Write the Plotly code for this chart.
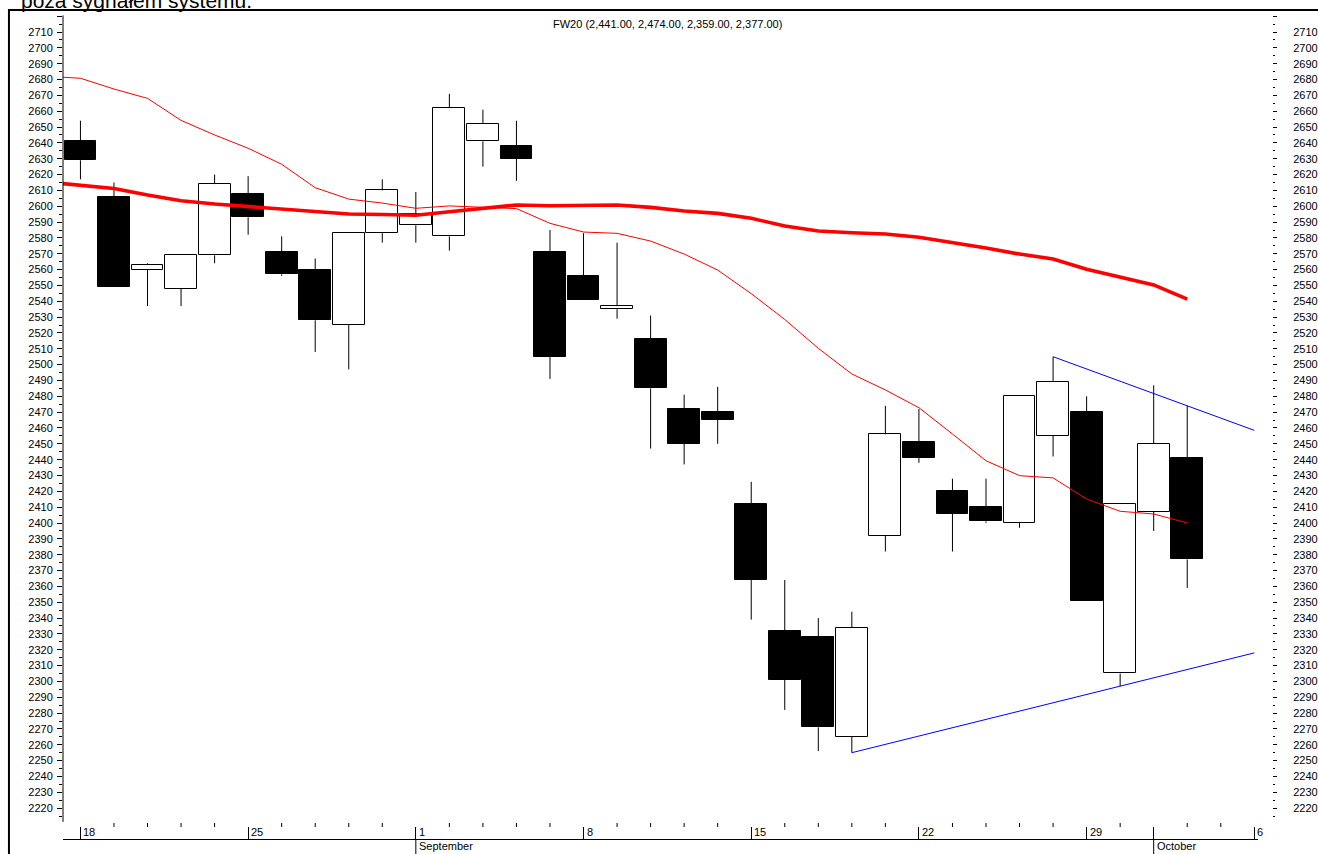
import plotly.graph_objects as go

# ---------------- data (FW20, 18 Aug - 2 Oct 2008) ----------------
day_idx = list(range(34))
opens  = [2641, 2606, 2560, 2548, 2569, 2608, 2571, 2560, 2525, 2583,
          2588, 2581, 2641, 2638, 2571, 2556, 2535, 2516, 2472, 2470,
          2412, 2332, 2328, 2265, 2392, 2451, 2420, 2410, 2400, 2455,
          2470, 2305, 2407, 2441]
highs  = [2654, 2615, 2564, 2569, 2620, 2619, 2581, 2567, 2583, 2617,
          2609, 2671, 2661, 2654, 2585, 2583, 2577, 2531, 2481, 2486,
          2426, 2364, 2340, 2344, 2474, 2472, 2428, 2428, 2480, 2505,
          2480, 2412, 2487, 2474]
lows   = [2617, 2549, 2537, 2537, 2564, 2582, 2556, 2508, 2497, 2577,
          2577, 2572, 2625, 2616, 2491, 2541, 2529, 2447, 2437, 2450,
          2339, 2282, 2256, 2255, 2382, 2438, 2382, 2400, 2397, 2442,
          2351, 2297, 2395, 2359]
closes = [2629, 2549, 2563, 2569, 2614, 2593, 2557, 2528, 2583, 2610,
          2595, 2662, 2652, 2630, 2505, 2541, 2537, 2485, 2450, 2465,
          2364, 2301, 2271, 2334, 2456, 2441, 2406, 2401, 2480, 2489,
          2351, 2412, 2450, 2377]

ma_idx = list(range(-1, 34))
ma_short = [2682, 2680.8, 2674, 2668.1, 2654.2, 2645, 2636.6, 2626.5, 2611.7, 2604.5,
            2602, 2598.7, 2600.2, 2599.2, 2598.5, 2589.2, 2583.7, 2582.9, 2578, 2569.8,
            2559.7, 2544.8, 2528.5, 2510.3, 2494.1, 2484, 2472.8, 2456.2, 2439.3, 2429.9,
            2428.5, 2415.1, 2407.4, 2405.7, 2400.0]
ma_long = [2615.3, 2613.2, 2611.2, 2607.1, 2603.5, 2601.4, 2599.7, 2598.2, 2596.6, 2595.1,
           2594.8, 2594.3, 2596.5, 2598.7, 2600.8, 2600.3, 2600.3, 2600.8, 2599.3, 2597.0,
           2595.5, 2592.4, 2587.5, 2584.4, 2583.3, 2582.5, 2580.4, 2577.2, 2573.6, 2569.8,
           2566.7, 2560.2, 2555.5, 2550.3, 2541.4]

upper_anchor = [29, 33]   # candles whose highs define the falling trend line
lower_anchor = [23, 31]   # candles whose lows define the rising trend line
trend_end = 35

week_idx = [0, 5, 10, 15, 20, 25, 30, 35]
week_labels = ["18", "25", "1", "8", "15", "22", "29", "6"]
month_idx = [10, 32]
month_labels = ["September", "October"]
n_days = 35

y_major = list(range(2220, 2721, 10))
y_labels = [str(v) if v <= 2710 else "" for v in y_major]
y_minor = [v for v in range(2215, 2721, 5) if v % 10 != 0]

title_text = "FW20 (2,441.00, 2,474.00, 2,359.00, 2,377.00)"
top_text = "poza sygnałem systemu."

# ---------------- figure ----------------
FONT = "Liberation Sans, Arial, Helvetica, sans-serif"
YR = [2200.5, 2723.9]
XR = [-0.52, 35.11]

fig = go.Figure()

# wicks (split so they never cross a body)
wx, wy = [], []
for i, o, h, l, c in zip(day_idx, opens, highs, lows, closes):
    top, bot = max(o, c), min(o, c)
    if h > top:
        wx += [i, i, None]; wy += [h, top, None]
    if l < bot:
        wx += [i, i, None]; wy += [bot, l, None]
fig.add_trace(go.Scatter(x=wx, y=wy, mode="lines", line=dict(color="black", width=1),
                         hoverinfo="skip", showlegend=False))

# bodies
bases = [min(o, c) for o, c in zip(opens, closes)]
heights = [max(abs(c - o), 0.6) for o, c in zip(opens, closes)]
colors = ["black" if c < o else "white" for o, c in zip(opens, closes)]
fig.add_trace(go.Bar(x=day_idx, y=heights, base=bases, width=0.95,
                     marker=dict(color=colors, line=dict(color="black", width=1)),
                     showlegend=False))

# moving averages
fig.add_trace(go.Scatter(x=ma_idx, y=ma_short, mode="lines",
                         line=dict(color="#ff0000", width=1), showlegend=False))
fig.add_trace(go.Scatter(x=ma_idx, y=ma_long, mode="lines",
                         line=dict(color="#ff0000", width=3.6), showlegend=False))

# trend lines
def trend(i0, v0, i1, v1):
    slope = (v1 - v0) / (i1 - i0)
    return [i0, trend_end], [v0, v0 + slope * (trend_end - i0)]

ux, uy = trend(upper_anchor[0], highs[upper_anchor[0]], upper_anchor[1], highs[upper_anchor[1]])
lx, ly = trend(lower_anchor[0], lows[lower_anchor[0]], lower_anchor[1], lows[lower_anchor[1]])
fig.add_trace(go.Scatter(x=ux, y=uy, mode="lines", line=dict(color="#0000ff", width=1),
                         showlegend=False))
fig.add_trace(go.Scatter(x=lx, y=ly, mode="lines", line=dict(color="#0000ff", width=1),
                         showlegend=False))
# dummy for right axis
fig.add_trace(go.Scatter(x=[None], y=[None], yaxis="y2", showlegend=False))

PLOT_H = 829.0
shapes = []
# frame
shapes.append(dict(type="rect", xref="paper", yref="paper", x0=-0.0447, x1=1.3,
                   y0=-0.2, y1=1, line=dict(color="black", width=2), layer="above"))
# left axis line
shapes.append(dict(type="line", xref="paper", yref="y", x0=0, x1=0, y0=2211.3, y1=2720.5,
                   line=dict(color="black", width=1)))
# day minor ticks
for i in range(n_days):
    if i in week_idx or i in month_idx:
        continue
    shapes.append(dict(type="line", xref="x", yref="paper", x0=i, x1=i,
                       y0=12 / PLOT_H, y1=16 / PLOT_H, line=dict(color="black", width=1)))
# month ticks below axis line
for i in month_idx:
    shapes.append(dict(type="line", xref="x", yref="paper", x0=i, x1=i,
                       y0=-15 / PLOT_H, y1=0, line=dict(color="black", width=1)))

annotations = []
for i, t in zip(week_idx, week_labels):
    annotations.append(dict(x=i, xref="x", y=0, yref="paper", text=t, showarrow=False,
                            xanchor="left", yanchor="bottom", xshift=1, yshift=-1,
                            font=dict(family=FONT, size=11, color="black")))
for i, t in zip(month_idx, month_labels):
    annotations.append(dict(x=i, xref="x", y=0, yref="paper", text=t, showarrow=False,
                            xanchor="left", yanchor="top", xshift=1, yshift=1,
                            font=dict(family=FONT, size=11, color="black")))
annotations.append(dict(x=(667 - 63) / 1209, xref="paper", y=1 - 14 / PLOT_H, yref="paper",
                        text=title_text, showarrow=False, xanchor="center", yanchor="middle",
                        font=dict(family=FONT, size=11, color="black")))
annotations.append(dict(x=(19 - 63) / 1209, xref="paper", y=1, yref="paper",
                        text=top_text, showarrow=False, xanchor="left", yanchor="bottom",
                        yshift=-4,
                        font=dict(family=FONT, size=21, color="black")))

fig.update_layout(
    width=1318, height=854,
    margin=dict(l=63, r=46, t=10, b=15, pad=0, autoexpand=False),
    paper_bgcolor="white", plot_bgcolor="white",
    font=dict(family=FONT, size=11, color="black"),
    showlegend=False, bargap=0, barmode="overlay",
    shapes=shapes, annotations=annotations,
    xaxis=dict(domain=[0, (1258 - 63) / 1209], range=XR, showgrid=False, zeroline=False,
               automargin=False,
               showline=True, linecolor="black", linewidth=1,
               tickmode="array", tickvals=week_idx + [month_idx[1]],
               ticks="inside", ticklen=12, tickcolor="black", tickwidth=1,
               showticklabels=False),
    yaxis=dict(range=YR, showgrid=False, zeroline=False, showline=False, automargin=False,
               tickmode="array", tickvals=y_major, ticktext=y_labels,
               ticks="outside", ticklen=5, tickcolor="black", tickwidth=1,
               ticklabelstandoff=2,
               tickfont=dict(family=FONT, size=11, color="black"),
               minor=dict(tickmode="array", tickvals=y_minor, ticks="outside",
                          ticklen=3, tickcolor="black", tickwidth=1)),
    yaxis2=dict(range=YR, overlaying="y", side="right", anchor="free", position=1,
                showgrid=False, zeroline=False, showline=False, automargin=False,
                tickmode="array", tickvals=y_major, ticktext=y_labels,
                ticks="outside", ticklen=4, tickcolor="black", tickwidth=1,
                ticklabelstandoff=14,
                tickfont=dict(family=FONT, size=11, color="black"),
                minor=dict(tickmode="array", tickvals=y_minor, ticks="outside",
                           ticklen=2, tickcolor="black", tickwidth=1)),
)

fig.write_html(
    "out.html",
    config={"displayModeBar": False},
    post_script="document.body.style.margin='0';document.body.style.padding='0';"
                "document.body.style.overflow='hidden';",
)
